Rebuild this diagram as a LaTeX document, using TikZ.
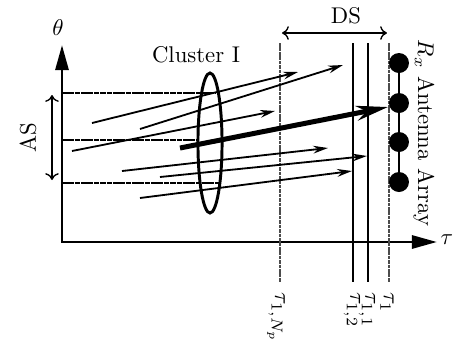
\documentclass[tikz,border=0pt]{standalone}
\usetikzlibrary{arrows.meta,shapes.geometric}
\begin{document}
\begin{tikzpicture}[x=0.44pt,y=-0.44pt,
  axisline/.style={line width=1.3pt},
  raypath/.style={line width=0.8pt,-{Stealth[length=6.5pt,width=3.4pt]}},
  mainray/.style={line width=2.2pt,-{Stealth[length=14pt,width=6.5pt]}},
  spanarrow/.style={line width=0.6pt,{To[length=3pt,width=6pt]}-{To[length=3pt,width=6pt]}},
  hguide/.style={line width=0.5pt,dash pattern=on 2.5pt off 0.3pt},
  tguide/.style={line width=0.8pt,black!70,dash pattern=on 1.6pt off 0.35pt},
  iguide/.style={line width=0.45pt},
  elem/.style={circle,fill=black,minimum size=8.8pt,inner sep=0pt},
  vlabel/.style={rotate=-90,anchor=west,inner sep=1pt}]
\useasboundingbox (0,0) rectangle (453,343);

% axes
\coordinate (O) at (62,242);
\coordinate (ytip) at (62,45);
\coordinate (xtip) at (437,242);
\draw[axisline,{Triangle[length=11pt,width=5.7pt]}-{Triangle[length=11pt,width=5.7pt]}] (ytip) -- (O) -- (xtip);
\node (theta) at (58,28) {$\theta$};
\node (tau) at (447,240) {$\tau$};

% horizontal guides (angular spread)
\coordinate (h1a) at (62,93);  \coordinate (h1b) at (216,93);
\coordinate (h2a) at (62,140); \coordinate (h2b) at (198,140);
\coordinate (h3a) at (62,183); \coordinate (h3b) at (220,183);
\draw[hguide] (h1a) -- (h1b);
\draw[hguide] (h2a) -- (h2b);
\draw[hguide] (h3a) -- (h3b);

% AS
\coordinate (as1) at (52,95); \coordinate (as2) at (52,180);
\draw[spanarrow] (as1) -- (as2);
\node[rotate=90] (AS) at (28,138) {AS};

% cluster
\node[draw,ellipse,line width=1.3pt,minimum width=10.6pt,minimum height=61.6pt,inner sep=0pt] (cl) at (210,143) {};
\node (clname) at (196,55) {Cluster I};

% delay lines
\coordinate (tN) at (280,43);  \coordinate (tNb) at (280,282);
\coordinate (t2) at (353,43);  \coordinate (t2b) at (353,282);
\coordinate (t11) at (368,43); \coordinate (t11b) at (368,282);
\coordinate (t1) at (389,43);  \coordinate (t1b) at (389,282);
\draw[tguide] (tN) -- (tNb);
\draw[iguide] (t2) -- (t2b);
\draw[iguide] (t11) -- (t11b);
\draw[tguide] (t1) -- (t1b);
\node[vlabel] (lN) at (276,290) {$\tau_{1,N_p}$};
\node[vlabel] (l2) at (352,290) {$\tau_{1,2}$};
\node[vlabel] (l11) at (367,290) {$\tau_{1,1}$};
\node[vlabel] (l1) at (387,290) {$\tau_{1}$};

% DS
\coordinate (ds1) at (282,33); \coordinate (ds2) at (387,33);
\draw[spanarrow] (ds1) -- (ds2);
\node (DS) at (346,16) {DS};

% rays
\coordinate (r1s) at (92,123);  \coordinate (r1e) at (298,72);
\coordinate (r2s) at (140,129); \coordinate (r2e) at (343,65);
\coordinate (r3s) at (72,151);  \coordinate (r3e) at (275,111);
\coordinate (r5s) at (122,171); \coordinate (r5e) at (328,148);
\coordinate (r6s) at (160,177); \coordinate (r6e) at (367,156);
\coordinate (r7s) at (140,198); \coordinate (r7e) at (352,171);
\coordinate (mrs) at (180,148); \coordinate (mre) at (388,107);
\draw[raypath] (r1s) -- (r1e);
\draw[raypath] (r2s) -- (r2e);
\draw[raypath] (r3s) -- (r3e);
\draw[raypath] (r5s) -- (r5e);
\draw[raypath] (r6s) -- (r6e);
\draw[raypath] (r7s) -- (r7e);
\draw[mainray] (mrs) -- (mre);

% antenna array
\node[elem] (a1) at (399,63) {};
\node[elem] (a2) at (399,103) {};
\node[elem] (a3) at (399,142) {};
\node[elem] (a4) at (399,182) {};
\draw[line width=0.8pt] (a1) -- (a2) -- (a3) -- (a4);
\node[rotate=-90] (rx) at (424,133) {$R_x$ Antenna Array};
\end{tikzpicture}
\end{document}
